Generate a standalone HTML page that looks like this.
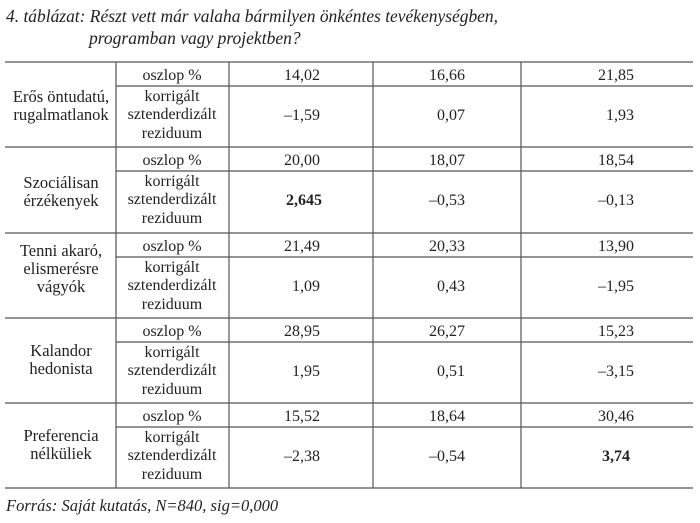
<!DOCTYPE html>
<html><head><meta charset="utf-8"><style>
body{margin:0;background:#fff;}
svg{display:block;font-family:"Liberation Serif",serif;}
</style></head><body>
<svg width="700" height="523" viewBox="0 0 700 523">
<g font-size="17.5" font-style="italic" fill="#222">
<text x="6" y="22" textLength="492" lengthAdjust="spacingAndGlyphs">4. táblázat: Részt vett már valaha bármilyen önkéntes tevékenységben,</text>
<text x="89" y="44">programban vagy projektben?</text>
<text x="6" y="511" font-size="16.5">Forrás: Saját kutatás, N=840, sig=0,000</text>
</g>
<g stroke="#555" stroke-width="1.2">
<line x1="5" x2="693" y1="62" y2="62"/>
<line x1="5" x2="693" y1="147" y2="147"/>
<line x1="5" x2="693" y1="233" y2="233"/>
<line x1="5" x2="693" y1="318" y2="318"/>
<line x1="5" x2="693" y1="403" y2="403"/>
<line x1="5" x2="693" y1="488" y2="488"/>
<line x1="116" x2="693" y1="86" y2="86"/>
<line x1="116" x2="693" y1="171" y2="171"/>
<line x1="116" x2="693" y1="257" y2="257"/>
<line x1="116" x2="693" y1="342" y2="342"/>
<line x1="116" x2="693" y1="427" y2="427"/>
<line x1="116" x2="116" y1="62" y2="488"/>
<line x1="229" x2="229" y1="62" y2="488"/>
<line x1="373" x2="373" y1="62" y2="488"/>
<line x1="521" x2="521" y1="62" y2="488"/>
</g>
<g font-size="16" fill="#222">
<g text-anchor="middle" font-size="16.5">
<text x="61" y="102">Erős öntudatú,</text><text x="61" y="120">rugalmatlanok</text>
<text x="61" y="188">Szociálisan</text><text x="61" y="206">érzékenyek</text>
<text x="61" y="256">Tenni akaró,</text><text x="61" y="274">elismerésre</text><text x="61" y="292">vágyók</text>
<text x="61" y="356">Kalandor</text><text x="61" y="374">hedonista</text>
<text x="61" y="441">Preferencia</text><text x="61" y="459">nélküliek</text>
</g>
<g text-anchor="middle">
<text x="172" y="80">oszlop %</text>
<text x="172" y="101">korrigált</text><text x="172" y="119">sztenderdizált</text><text x="172" y="138">reziduum</text>
<text x="172" y="165">oszlop %</text>
<text x="172" y="186">korrigált</text><text x="172" y="204">sztenderdizált</text><text x="172" y="223">reziduum</text>
<text x="172" y="251">oszlop %</text>
<text x="172" y="272">korrigált</text><text x="172" y="290">sztenderdizált</text><text x="172" y="309">reziduum</text>
<text x="172" y="336">oszlop %</text>
<text x="172" y="357">korrigált</text><text x="172" y="375">sztenderdizált</text><text x="172" y="394">reziduum</text>
<text x="172" y="421">oszlop %</text>
<text x="172" y="442">korrigált</text><text x="172" y="460">sztenderdizált</text><text x="172" y="479">reziduum</text>
</g>
<g text-anchor="end">
<text x="320" y="80">14,02</text><text x="465" y="80">16,66</text><text x="634" y="80">21,85</text>
<text x="320" y="120">–1,59</text><text x="465" y="120">0,07</text><text x="634" y="120">1,93</text>
<text x="320" y="165">20,00</text><text x="465" y="165">18,07</text><text x="634" y="165">18,54</text>
<text x="322" y="205" font-weight="bold">2,645</text><text x="465" y="205">–0,53</text><text x="634" y="205">–0,13</text>
<text x="320" y="251">21,49</text><text x="465" y="251">20,33</text><text x="634" y="251">13,90</text>
<text x="320" y="291">1,09</text><text x="465" y="291">0,43</text><text x="634" y="291">–1,95</text>
<text x="320" y="336">28,95</text><text x="465" y="336">26,27</text><text x="634" y="336">15,23</text>
<text x="320" y="376">1,95</text><text x="465" y="376">0,51</text><text x="634" y="376">–3,15</text>
<text x="320" y="421">15,52</text><text x="465" y="421">18,64</text><text x="634" y="421">30,46</text>
<text x="320" y="461">–2,38</text><text x="465" y="461">–0,54</text><text x="630" y="461" font-weight="bold">3,74</text>
</g>
</g>
</svg>
</body></html>
